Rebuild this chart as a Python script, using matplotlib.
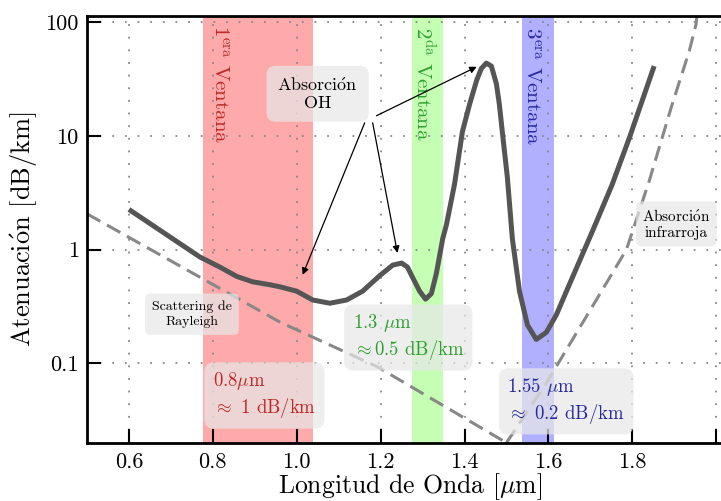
import matplotlib
matplotlib.use('Agg')
import matplotlib.pyplot as plt

# fuentes tipo LaTeX
plt.rcParams['font.family'] = 'serif'
plt.rcParams['font.serif'] = ['cmr10']
plt.rcParams['mathtext.fontset'] = 'cm'
plt.rcParams['axes.unicode_minus'] = False

# curva de atenuacion de la fibra
lam = [0.60, 0.769, 0.817, 0.857, 0.895, 0.936, 0.96, 1.0, 1.038, 1.079,
       1.119, 1.157, 1.198, 1.229, 1.25, 1.264, 1.276, 1.293, 1.307, 1.321,
       1.333, 1.348, 1.357, 1.376, 1.395, 1.412, 1.429, 1.44, 1.452, 1.464,
       1.476, 1.483, 1.49, 1.502, 1.514, 1.531, 1.55, 1.571, 1.595, 1.619,
       1.643, 1.705, 1.752, 1.793, 1.852]
aten = [2.25, 0.86, 0.70, 0.58, 0.52, 0.49, 0.47, 0.43, 0.36, 0.337,
        0.36, 0.43, 0.59, 0.73, 0.76, 0.70, 0.57, 0.43, 0.366, 0.41,
        0.62, 1.245, 1.66, 3.73, 10.9, 18.9, 30.8, 39.0, 43.5, 41.0,
        28.6, 18.9, 10.9, 4.35, 1.245, 0.43, 0.217, 0.162, 0.187, 0.267,
        0.43, 1.45, 3.73, 9.6, 41.0]

# scattering de Rayleigh
lam_ray = [0.50, 0.96, 1.19, 1.50]
aten_ray = [2.06, 0.23, 0.094, 0.02]

# absorcion infrarroja
lam_ir = [1.50, 1.595, 1.69, 1.786, 1.84, 1.895, 1.936, 1.952, 1.957]
aten_ir = [0.02, 0.067, 0.256, 1.0, 3.98, 18.9, 56.0, 96.0, 150.0]

# ventanas
ventanas = [(0.776, 1.038), (1.275, 1.349), (1.536, 1.613)]
col_banda = ['#ffaaaa', '#c4ffb4', '#b0b0ff']
col_texto = ['#c02828', '#2ea02e', '#2828a0']
nombres = [r'1$^{\mathrm{era}}$ Ventana', r'2$^{\mathrm{da}}$ Ventana',
           r'3$^{\mathrm{era}}$ Ventana']
info = ['0.8$\\mu$m\n${\\approx}$ 1 dB/km', '1.3 $\\mu$m\n${\\approx}$0.5 dB/km',
        '1.55 $\\mu$m\n${\\approx}$ 0.2 dB/km']

xticks = [0.6, 0.8, 1.0, 1.2, 1.4, 1.6, 1.8, 2.0]
xlabels = ['0.6', '0.8', '1.0', '1.2', '1.4', '1.6', '1.8', '']
yticks = [0.1, 1, 10, 100]
ylabels = ['0.1', '1', '10', '100']

fig = plt.figure(figsize=(7.21, 5.01), dpi=100)
ax = fig.add_axes([87/721, 58/501, 646/721, 427/501])
ax.set_yscale('log')

caja = dict(boxstyle='round,pad=0.45,rounding_size=0.5', fc='#e8e8e8',
            ec='none', alpha=0.7)

for (a, b), c in zip(ventanas, col_banda):
    ax.axvspan(a, b, color=c, lw=0, zorder=0)

ax.plot(lam_ray, aten_ray, color='#888888', lw=2.2, dashes=(5, 2.5), zorder=3)
ax.plot(lam_ir, aten_ir, color='#888888', lw=2.2, dashes=(5, 2.5), zorder=3)
ax.plot(lam, aten, color='#555555', lw=3.6, solid_capstyle='butt',
        solid_joinstyle='round', zorder=4)

# etiquetas verticales de las ventanas
pos_v = [(0.817, 94), (1.305, 91), (1.56, 91)]
for (x, y), t, c in zip(pos_v, nombres, col_texto):
    ax.text(x, y, t, rotation=270, color=c, fontsize=15, ha='center', va='top',
            zorder=5)

# cajas con valores tipicos
pos_info = [(0.80, 0.0526), (1.133, 0.170), (1.502, 0.0467)]
for (x, y), t, c in zip(pos_info, info, col_texto):
    ax.text(x, y, t, color=c, fontsize=13.5, ha='left', va='center',
            linespacing=1.25, bbox=caja, zorder=6)

ax.text(1.05, 23.4, r'Absorci$\acute{\mathrm{o}}$n' + '\nOH', fontsize=13,
        ha='center', va='center', linespacing=1.1,
        bbox=dict(boxstyle='round,pad=0.6,rounding_size=0.5', fc='#e8e8e8',
                  ec='none', alpha=0.7), zorder=6)
ax.text(0.75, 0.27, 'Scattering de\nRayleigh', fontsize=10, ha='center',
        va='center', linespacing=1.3,
        bbox=dict(boxstyle='round,pad=0.5,rounding_size=0.4', fc='#e8e8e8',
                  ec='none', alpha=0.7), zorder=6)
ax.text(1.905, 1.68, r'Absorci$\acute{\mathrm{o}}$n' + '\ninfrarroja',
        fontsize=11, ha='center', va='center', linespacing=1.25,
        bbox=dict(boxstyle='round,pad=0.4,rounding_size=0.4', fc='#e8e8e8',
                  ec='none', alpha=0.7), zorder=6)

# flechas absorcion OH
flecha = dict(arrowstyle='-|>', color='black', lw=0.9, mutation_scale=10,
              shrinkA=0, shrinkB=0)
ax.annotate('', xy=(1.429, 40.4), xytext=(1.19, 15.0), arrowprops=flecha, zorder=7)
ax.annotate('', xy=(1.24, 0.933), xytext=(1.181, 13.0), arrowprops=flecha, zorder=7)
ax.annotate('', xy=(1.014, 0.598), xytext=(1.162, 13.0), arrowprops=flecha, zorder=7)

ax.set_xlim(0.5, 2.04)
ax.set_ylim(0.0199, 113)
ax.set_xticks(xticks)
ax.set_xticklabels(xlabels)
ax.set_yticks(yticks)
ax.set_yticklabels(ylabels)
ax.minorticks_off()
ax.tick_params(direction='in', length=10, width=1.5, labelsize=16)
ax.tick_params(axis='x', pad=7)
ax.tick_params(axis='y', pad=6)
ax.grid(True, color='#888888', lw=1.3, linestyle=(0, (1, 6)), zorder=1)
ax.set_axisbelow(False)
for s in ax.spines.values():
    s.set_linewidth(2)
    s.set_zorder(8)

ax.set_xlabel(r'Longitud de Onda [$\mu$m]', fontsize=18.5, labelpad=-1)
ax.set_ylabel(r'Atenuaci$\acute{\mathrm{o}}$n [dB/km]', fontsize=19, labelpad=4)

fig.savefig('out.png', dpi=100)
